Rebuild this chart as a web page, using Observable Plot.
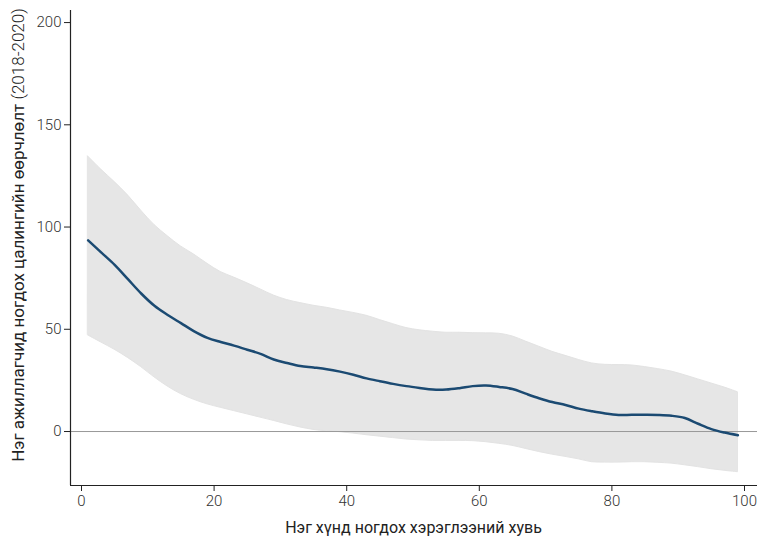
<!DOCTYPE html>
<html>
<head>
<meta charset="utf-8">
<script src="https://cdn.jsdelivr.net/npm/d3@7"></script>
<script src="https://cdn.jsdelivr.net/npm/@observablehq/plot@0.6"></script>
<style>
  html, body { margin: 0; padding: 0; background: #fff; }
  #chart svg { display: block; }
</style>
</head>
<body>
<div id="chart"></div>
<script>
const percentile = [1,3,5,7,9,11,13,15,17,19,21,23,25,27,29,31,33,35,37,39,41,43,45,47,49,51,53,55,57,59,61,63,65,67,69,71,73,75,77,79,81,83,85,87,89,91,93,95,97,99];
const meanChange = [93.5,87.5,81.5,74.5,67.5,61.5,57,53,49,45.8,43.8,42,40,38,35.2,33.5,32,31.3,30.5,29.3,27.8,26,24.6,23.3,22.2,21.3,20.5,20.5,21.2,22.2,22.5,21.8,20.8,18.5,16.3,14.4,13,11.2,9.9,8.8,8.1,8.2,8.2,8.1,7.7,6.6,3.8,1.2,-0.5,-1.8];
const upperCI = [134.5,128,122,115.5,108,101,95.5,90.5,86.5,82,78,75.3,72.5,69.5,66.5,64.3,62.8,61.5,60.5,59.2,58,56.6,54.5,52.5,50.6,49.5,48.8,48.3,48.3,48.1,48,47.8,46.5,44,41.5,39,37,35,33.3,32.6,32.5,32.3,31.5,30.5,29.3,27.5,25.5,23.5,21.5,19.2];
const lowerCI = [47,43.5,40,36,31.5,26.5,22,18.3,15.5,13.3,11.6,10,8.4,6.8,5.2,3.5,2,0.8,0.1,-0.3,-1,-1.8,-2.5,-3.2,-3.9,-4.3,-4.6,-4.6,-4.6,-4.7,-5.2,-6,-7,-8.5,-10,-11.3,-12.4,-13.6,-15,-15.2,-15.2,-15,-15,-15.3,-15.7,-16.5,-17.4,-18.4,-19.2,-19.9];
const xTicks = [0,20,40,60,80,100];
const yTicks = [0,50,100,150,200];
const xTitle = "Нэг хүнд ногдох хэрэглээний хувь";
const yTitleMain = "Нэг ажиллагчид ногдох цалингийн өөрчлөлт";
const yTitlePeriod = "(2018-2020)";

const rows = percentile.map((p, i) => ({p, mean: meanChange[i], lo: lowerCI[i], hi: upperCI[i]}));
const xDomain = [-1.66, 101.96];
const yDomain = [-26.4, 205.9];

const plot = Plot.plot({
  width: 760,
  height: 539,
  marginLeft: 70,
  marginRight: 3,
  marginTop: 10,
  marginBottom: 54,
  style: {fontFamily: "Roboto, sans-serif", fontSize: "14px", color: "#333", background: "#fff"},
  x: {domain: xDomain, ticks: xTicks, tickSize: 6, tickPadding: 4, label: null},
  y: {domain: yDomain, ticks: yTicks, tickSize: 6, tickPadding: 3, label: null},
  marks: [
    Plot.areaY(rows, {x: "p", y1: "lo", y2: "hi", fill: "#e6e6e6", stroke: "#e3e3e3", strokeWidth: 1, curve: "catmull-rom"}),
    Plot.ruleY([0], {stroke: "#999", strokeWidth: 1}),
    Plot.lineY(rows, {x: "p", y: "mean", stroke: "#1b4a72", strokeWidth: 2.5, curve: "catmull-rom"}),
    Plot.ruleX([xDomain[0]], {stroke: "#222", strokeWidth: 1.2}),
    Plot.ruleY([yDomain[0]], {stroke: "#222", strokeWidth: 1.2})
  ]
});

const svg = d3.select(plot);
svg.selectAll("g[aria-label='x-axis tick label'] text, g[aria-label='y-axis tick label'] text")
  .style("font-weight", 300).style("font-size", "15px").attr("fill", "#333");
svg.selectAll("g[aria-label='x-axis tick'] path, g[aria-label='y-axis tick'] path").attr("stroke", "#222");

svg.append("text")
  .attr("x", 413.5).attr("y", 533)
  .attr("text-anchor", "middle")
  .style("font-family", "Roboto, sans-serif").style("font-size", "16px").attr("fill", "#222")
  .text(xTitle);

const yt = svg.append("text")
  .attr("transform", "translate(24,235) rotate(-90)")
  .attr("text-anchor", "middle")
  .style("font-family", "Roboto, sans-serif").style("font-size", "17px").attr("fill", "#222");
yt.append("tspan").text(yTitleMain + " ");
yt.append("tspan").style("font-weight", 300).text(yTitlePeriod);

document.getElementById("chart").appendChild(plot);
</script>
</body>
</html>
